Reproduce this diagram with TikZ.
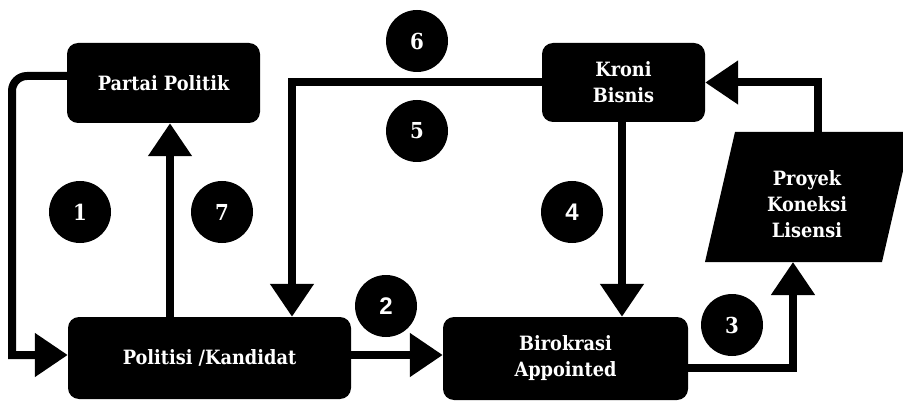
\documentclass[tikz,border=0pt]{standalone}
\usepackage{fontspec}
\setmainfont{DejaVu Serif Condensed}
\newfontfamily\numsans{Liberation Sans}
\usetikzlibrary{arrows.meta}
\tikzset{
  box/.style={fill=black, text=white, rounded corners=11pt, inner sep=0pt, align=center,
    font=\fontsize{19.7}{26}\selectfont\bfseries},
  num/.style={circle, fill=black, text=white, minimum size=62pt, inner sep=0pt,
    font=\fontsize{22}{22}\selectfont\bfseries},
  arr/.style={line width=8pt, -{Triangle[width=42pt,length=33pt]}}
}
\begin{document}
\begin{tikzpicture}[x=1pt,y=-1pt]
\useasboundingbox (0,0) rectangle (903,401);
\clip (0,0) rectangle (903,401);
% boxes
\node[box, minimum width=193pt, minimum height=80pt] (partai) at (163.5,83) {Partai Politik};
\node[box, minimum width=283pt, minimum height=82pt] (politisi) at (209.5,358) {Politisi /Kandidat};
\node[box, minimum width=245pt, minimum height=83pt] (birokrasi) at (565.5,358.5) {Birokrasi\\Appointed};
\node[box, minimum width=163pt, minimum height=79pt] (kroni) at (623.5,82.5) {Kroni\\Bisnis};
% parallelogram
\fill[black] (735,132) -- (912,132) -- (882,262) -- (705,262) -- cycle;
\node[box, fill=none] (proyek) at (807,204.5) {Proyek\\Koneksi\\Lisensi};
\coordinate (pbot) at (793,262);
\coordinate (ptop) at (818,132);
\coordinate (c0) at (12,76);
\coordinate (c1) at (12,355);
% connectors
\draw[arr] ([yshift=7pt]partai.west) [rounded corners=15pt] -- (c0) [sharp corners] -- (c1) -- (c1 -| politisi.west);
\draw[arr] ([xshift=-39.5pt]politisi.north) -- ([xshift=-39.5pt]politisi.north |- partai.south);
\draw[arr] ([yshift=3pt]politisi.east) -- ([yshift=3pt]politisi.east -| birokrasi.west);
\draw[arr] (kroni.west) -| ([xshift=82.5pt]politisi.north);
\draw[arr] ([xshift=-1.5pt]kroni.south) -- ([xshift=-1.5pt]kroni.south |- birokrasi.north);
\draw[arr] ([yshift=-9pt]birokrasi.east) -| (pbot);
\draw[arr] (ptop) |- (kroni.east);
% numbers
\node[num] (n1) at (80,212) {1};
\node[num] (n7) at (222,212) {7};
\node[num, font=\fontsize{24}{24}\selectfont\numsans\bfseries] (n2) at (386,306) {2};
\node[num] (n3) at (732,325) {3};
\node[num, font=\fontsize{24}{24}\selectfont\numsans\bfseries] (n4) at (572,212) {4};
\node[num] (n6) at (417,41) {6};
\node[num] (n5) at (417,131) {5};
\end{tikzpicture}
\end{document}
